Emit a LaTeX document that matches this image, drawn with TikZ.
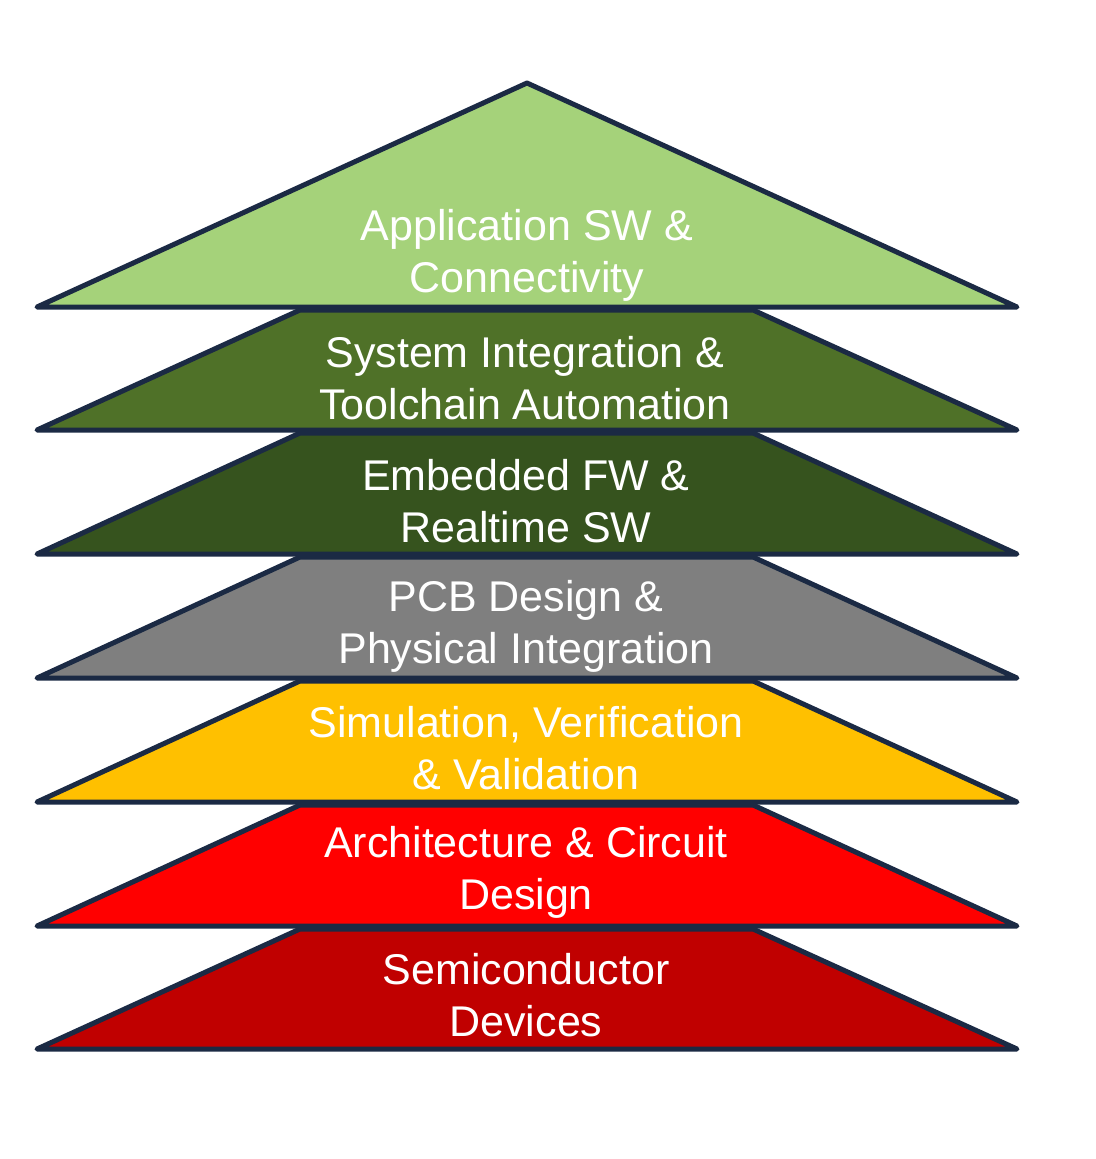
\documentclass[tikz,border=0pt]{standalone}
\usepackage{fontspec}
\setmainfont{Liberation Sans}
\definecolor{edge}{HTML}{1B2A44}
\definecolor{cA}{HTML}{A5D27A}
\definecolor{cB}{HTML}{4F7128}
\definecolor{cC}{HTML}{36531E}
\definecolor{cD}{HTML}{7F7F7F}
\definecolor{cE}{HTML}{FFC000}
\definecolor{cF}{HTML}{FF0000}
\definecolor{cG}{HTML}{C00000}
\tikzset{
  layer/.style={draw=edge, line width=5pt, line join=round},
  lbl/.style={text=white, align=center, font=\fontsize{43}{52}\selectfont, inner sep=0pt}
}
\begin{document}
\begin{tikzpicture}[x=1pt,y=-1pt]
\useasboundingbox (0,0) rectangle (1095,1159);
\fill[white] (0,0) rectangle (1095,1159);
% top triangle
\filldraw[layer, fill=cA] (527,83) -- (1017,307) -- (37,307) -- cycle;
% trapezoids
\foreach \t/\b/\c in {310/430/cB, 433/554/cC, 557/678/cD, 681/802/cE, 805/926/cF, 929/1049/cG}{
  \filldraw[layer, fill=\c] (300,\t) -- (753,\t) -- (1017,\b) -- (37,\b) -- cycle;
}
\node[lbl] (l1) at (527,255) {Application SW \&\\Connectivity};
\node[lbl] (l2) at (525,378) {System Integration \&\\Toolchain Automation};
\node[lbl] (l3) at (526,501) {Embedded FW \&\\Realtime SW};
\node[lbl] (l4) at (526,626) {PCB Design \&\\Physical Integration};
\node[lbl] (l5) at (526,748) {Simulation, Verification\\\& Validation};
\node[lbl] (l6) at (526,872) {Architecture \& Circuit\\Design};
\node[lbl] (l7) at (526,995) {Semiconductor\\Devices};
\end{tikzpicture}
\end{document}
